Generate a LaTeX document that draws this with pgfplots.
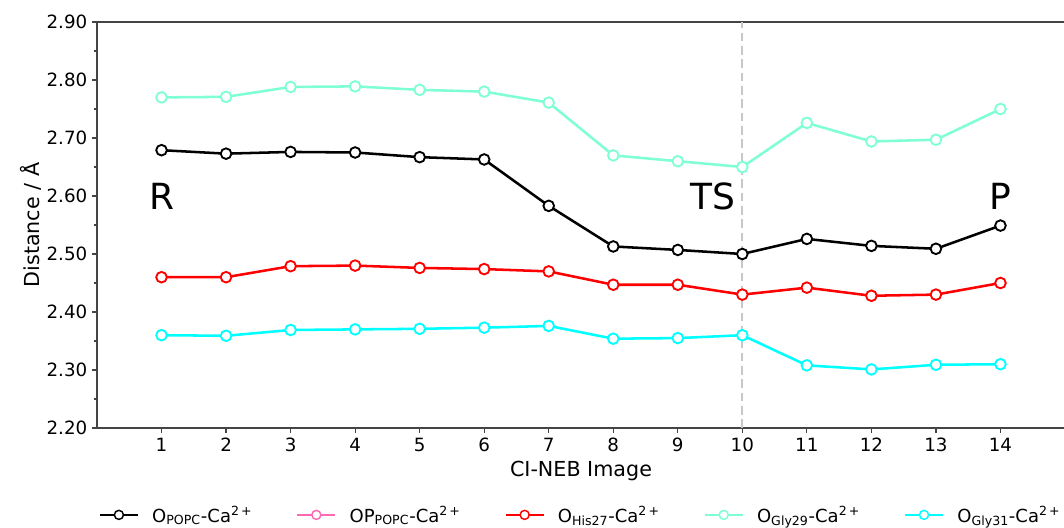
\documentclass[border=0pt]{standalone}
\usepackage{pgfplots}
\pgfplotsset{compat=1.18}
\usepackage{fontspec}
\setmainfont{DejaVu Sans}

\definecolor{cPOPC}{HTML}{000000}
\definecolor{cOPPOPC}{HTML}{FF69B4}
\definecolor{cHis}{HTML}{FF0000}
\definecolor{cGlyA}{HTML}{7FFFD4}
\definecolor{cGlyB}{HTML}{00FFFF}
\definecolor{cTS}{HTML}{C8C8C8}
\definecolor{spine}{HTML}{444444}

\pgfplotsset{
  series/.style={#1, line width=1.9pt, mark=*,
    mark options={fill=white, line width=1.4pt, solid}},
}

\begin{document}
\begin{tikzpicture}
% page frame around the axis (the axis' lower left corner sits at the origin)
\useasboundingbox (-72.75pt,-75pt) rectangle (725.25pt,321pt);
\begin{axis}[
  scale only axis,
  width=726pt, height=304.5pt,
  xmin=0, xmax=15, ymin=2.2, ymax=2.9,
  xtick={1,2,3,4,5,6,7,8,9,10,11,12,13,14},
  ytick={2.2,2.3,2.4,2.5,2.6,2.7,2.8,2.9},
  minor y tick num=1,
  xtick pos=bottom, ytick pos=left,
  tick align=outside,
  major tick length=3.75pt, minor tick length=2.2pt,
  every tick/.style={spine, line width=0.9pt},
  axis line style={spine, line width=1.0pt},
  yticklabel style={/pgf/number format/.cd, fixed, fixed zerofill, precision=2, assume math mode=true},
  xticklabel style={/pgf/number format/assume math mode=true},
  ticklabel style={font=\fontsize{13.7}{16}\selectfont},
  label style={font=\fontsize{15.5}{18}\selectfont},
  ylabel style={yshift=-3pt},
  xlabel={CI-NEB Image},
  ylabel={Distance / Å},
  mark size=4pt,
  legend style={at={(0.5,-0.214)}, anchor=center, draw=none, fill=none,
    font=\fontsize{13.5}{16}\selectfont,
    /tikz/every odd column/.append style={column sep=8pt},
    /tikz/every even column/.append style={column sep=31pt}},
  legend columns=5,
  legend image code/.code={%
    \draw[mark repeat=2, mark phase=2, line width=1.5pt, mark size=3.4pt,
      mark options={fill=white, line width=1.1pt, solid}]
      plot coordinates {(0cm,0cm) (0.5cm,0cm) (1cm,0cm)};},
]
% transition state marker
\addplot[cTS, line width=1.6pt, dash pattern=on 6.5pt off 3.5pt, forget plot]
  coordinates {(10,2.2) (10,2.9)};

\addplot[series=cPOPC] coordinates {
 (1,2.679) (2,2.673) (3,2.676) (4,2.675) (5,2.667) (6,2.663) (7,2.583)
 (8,2.513) (9,2.507) (10,2.500) (11,2.526) (12,2.514) (13,2.509) (14,2.549)};
\addlegendentry{O\textsubscript{POPC}-Ca\textsuperscript{2\,+}}

\addlegendimage{series=cOPPOPC}
\addlegendentry{OP\textsubscript{POPC}-Ca\textsuperscript{2\,+}}

\addplot[series=cHis] coordinates {
 (1,2.460) (2,2.460) (3,2.479) (4,2.480) (5,2.476) (6,2.474) (7,2.470)
 (8,2.447) (9,2.447) (10,2.430) (11,2.442) (12,2.428) (13,2.430) (14,2.450)};
\addlegendentry{O\textsubscript{His27}-Ca\textsuperscript{2\,+}}

\addplot[series=cGlyA] coordinates {
 (1,2.770) (2,2.771) (3,2.788) (4,2.789) (5,2.783) (6,2.780) (7,2.761)
 (8,2.670) (9,2.660) (10,2.650) (11,2.726) (12,2.694) (13,2.697) (14,2.750)};
\addlegendentry{O\textsubscript{Gly29}-Ca\textsuperscript{2\,+}}

\addplot[series=cGlyB] coordinates {
 (1,2.360) (2,2.359) (3,2.369) (4,2.370) (5,2.371) (6,2.373) (7,2.376)
 (8,2.354) (9,2.355) (10,2.360) (11,2.308) (12,2.301) (13,2.309) (14,2.310)};
\addlegendentry{O\textsubscript{Gly31}-Ca\textsuperscript{2\,+}}

\node[font=\fontsize{27}{30}\selectfont] at (axis cs:1,2.60) {R};
\node[font=\fontsize{27}{30}\selectfont] at (axis cs:9.54,2.60) {TS};
\node[font=\fontsize{27}{30}\selectfont] at (axis cs:14,2.60) {P};
\end{axis}
\end{tikzpicture}
\end{document}
